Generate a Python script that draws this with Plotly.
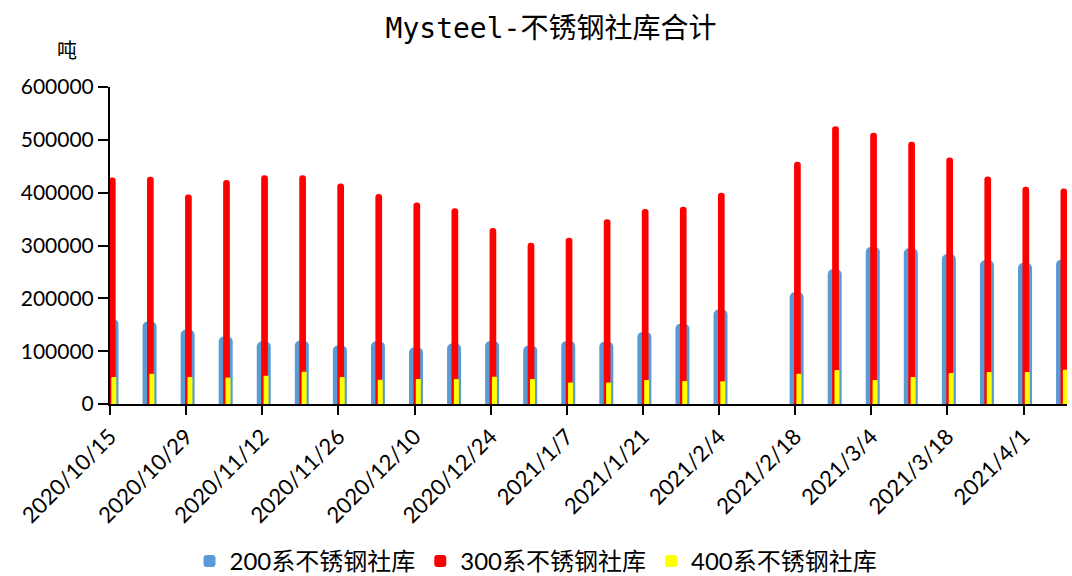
import plotly.graph_objects as go

# ---- data ----
dates = ["2020-10-15", "2020-10-22", "2020-10-29", "2020-11-05", "2020-11-12", "2020-11-19",
         "2020-11-26", "2020-12-03", "2020-12-10", "2020-12-17", "2020-12-24", "2020-12-31",
         "2021-01-07", "2021-01-14", "2021-01-21", "2021-01-28", "2021-02-04",
         "2021-02-18", "2021-02-25", "2021-03-04", "2021-03-11", "2021-03-18", "2021-03-25",
         "2021-04-01", "2021-04-08"]

s200 = [160600, 156100, 140400, 127700, 118300, 119600, 110700, 118300, 107000, 114500,
        119000, 110100, 119000, 117700, 136000, 151700, 179000,
        211600, 255000, 297200, 294700, 283400, 272000, 267000, 273200]

s300 = [428900, 430000, 396700, 423800, 433200, 433000, 417500, 397300, 381600, 370300,
        333100, 305300, 314800, 349500, 369000, 373300, 400000,
        458400, 525800, 513200, 496200, 466600, 430700, 411100, 408000]

s400 = [51000, 57200, 51000, 50300, 53500, 61000, 51000, 46000, 47200, 47200,
        51600, 47200, 40800, 40800, 45300, 43500, 43000,
        57200, 64200, 45300, 51000, 58500, 60400, 60400, 64800]

names = ["200系不锈钢社库", "300系不锈钢社库", "400系不锈钢社库"]

tick_dates = ["2020-10-15", "2020-10-29", "2020-11-12", "2020-11-26", "2020-12-10",
              "2020-12-24", "2021-01-07", "2021-01-21", "2021-02-04", "2021-02-18",
              "2021-03-04", "2021-03-18", "2021-04-01"]
tick_labels = ["2020/10/15", "2020/10/29", "2020/11/12", "2020/11/26", "2020/12/10",
               "2020/12/24", "2021/1/7", "2021/1/21", "2021/2/4", "2021/2/18",
               "2021/3/4", "2021/3/18", "2021/4/1"]

title = "Mysteel-不锈钢社库合计"
unit = "吨"

# ---- styling ----
PX = 86400000 / 5.4375  # ms per pixel (approx)

fig = go.Figure()
fig.add_trace(go.Bar(x=dates, y=s200, name=names[0],
                     marker=dict(color="#5b9bd5", line=dict(width=0), cornerradius=5),
                     width=14 * PX, offset=-5.5 * PX))
fig.add_trace(go.Bar(x=dates, y=s300, name=names[1],
                     marker=dict(color="#ff0000", line=dict(width=0), cornerradius=3),
                     width=6.7 * PX, offset=-1.05 * PX))
fig.add_trace(go.Bar(x=dates, y=s400, name=names[2],
                     marker=dict(color="#ffff00", line=dict(width=0), cornerradius=1),
                     width=5 * PX, offset=1.3 * PX))

fig.update_layout(
    width=1072, height=576,
    barmode="overlay",
    plot_bgcolor="white", paper_bgcolor="white",
    margin=dict(l=110, r=5, t=87, b=172, autoexpand=False),
    font=dict(family="Lato, Noto Sans CJK SC", color="black"),
    title=dict(text=title, x=0.514, xref="container", xanchor="center",
               y=1 - 28 / 576, yref="container", yanchor="middle",
               font=dict(family="DejaVu Sans Mono, Noto Sans CJK SC", size=28, color="black")),
    legend=dict(orientation="h", xref="container", yref="container",
                x=0.5, xanchor="center", y=1 - 539 / 576, yanchor="top",
                font=dict(size=24, family="Lato, Noto Sans CJK SC"),
                itemwidth=30, tracegroupgap=0),
    showlegend=True,
    annotations=[dict(text=unit, xref="paper", yref="paper", x=-0.045, y=1.117,
                      showarrow=False, font=dict(size=20, family="Noto Sans CJK SC"),
                      xanchor="center", yanchor="middle")],
)

fig.update_xaxes(type="date", range=["2020-10-15", "2021-04-09"],
                 tickvals=tick_dates, ticktext=tick_labels, tickangle=-45,
                 showline=True, linecolor="black", linewidth=2,
                 ticks="outside", ticklen=9, tickwidth=2, tickcolor="black",
                 showgrid=False, zeroline=False, automargin=False,
                 tickfont=dict(size=22, family="Lato"))
fig.update_yaxes(range=[0, 600000], tickvals=[0, 100000, 200000, 300000, 400000, 500000, 600000],
                 tickformat="d",
                 showline=True, linecolor="black", linewidth=2,
                 ticks="outside", ticklen=10, tickwidth=2, tickcolor="black",
                 showgrid=False, zeroline=False, automargin=False,
                 tickfont=dict(size=21, family="Lato"))

fig.write_html("out.html", config={"displayModeBar": False},
               post_script="document.body.style.margin='0';document.body.style.overflow='hidden';")
